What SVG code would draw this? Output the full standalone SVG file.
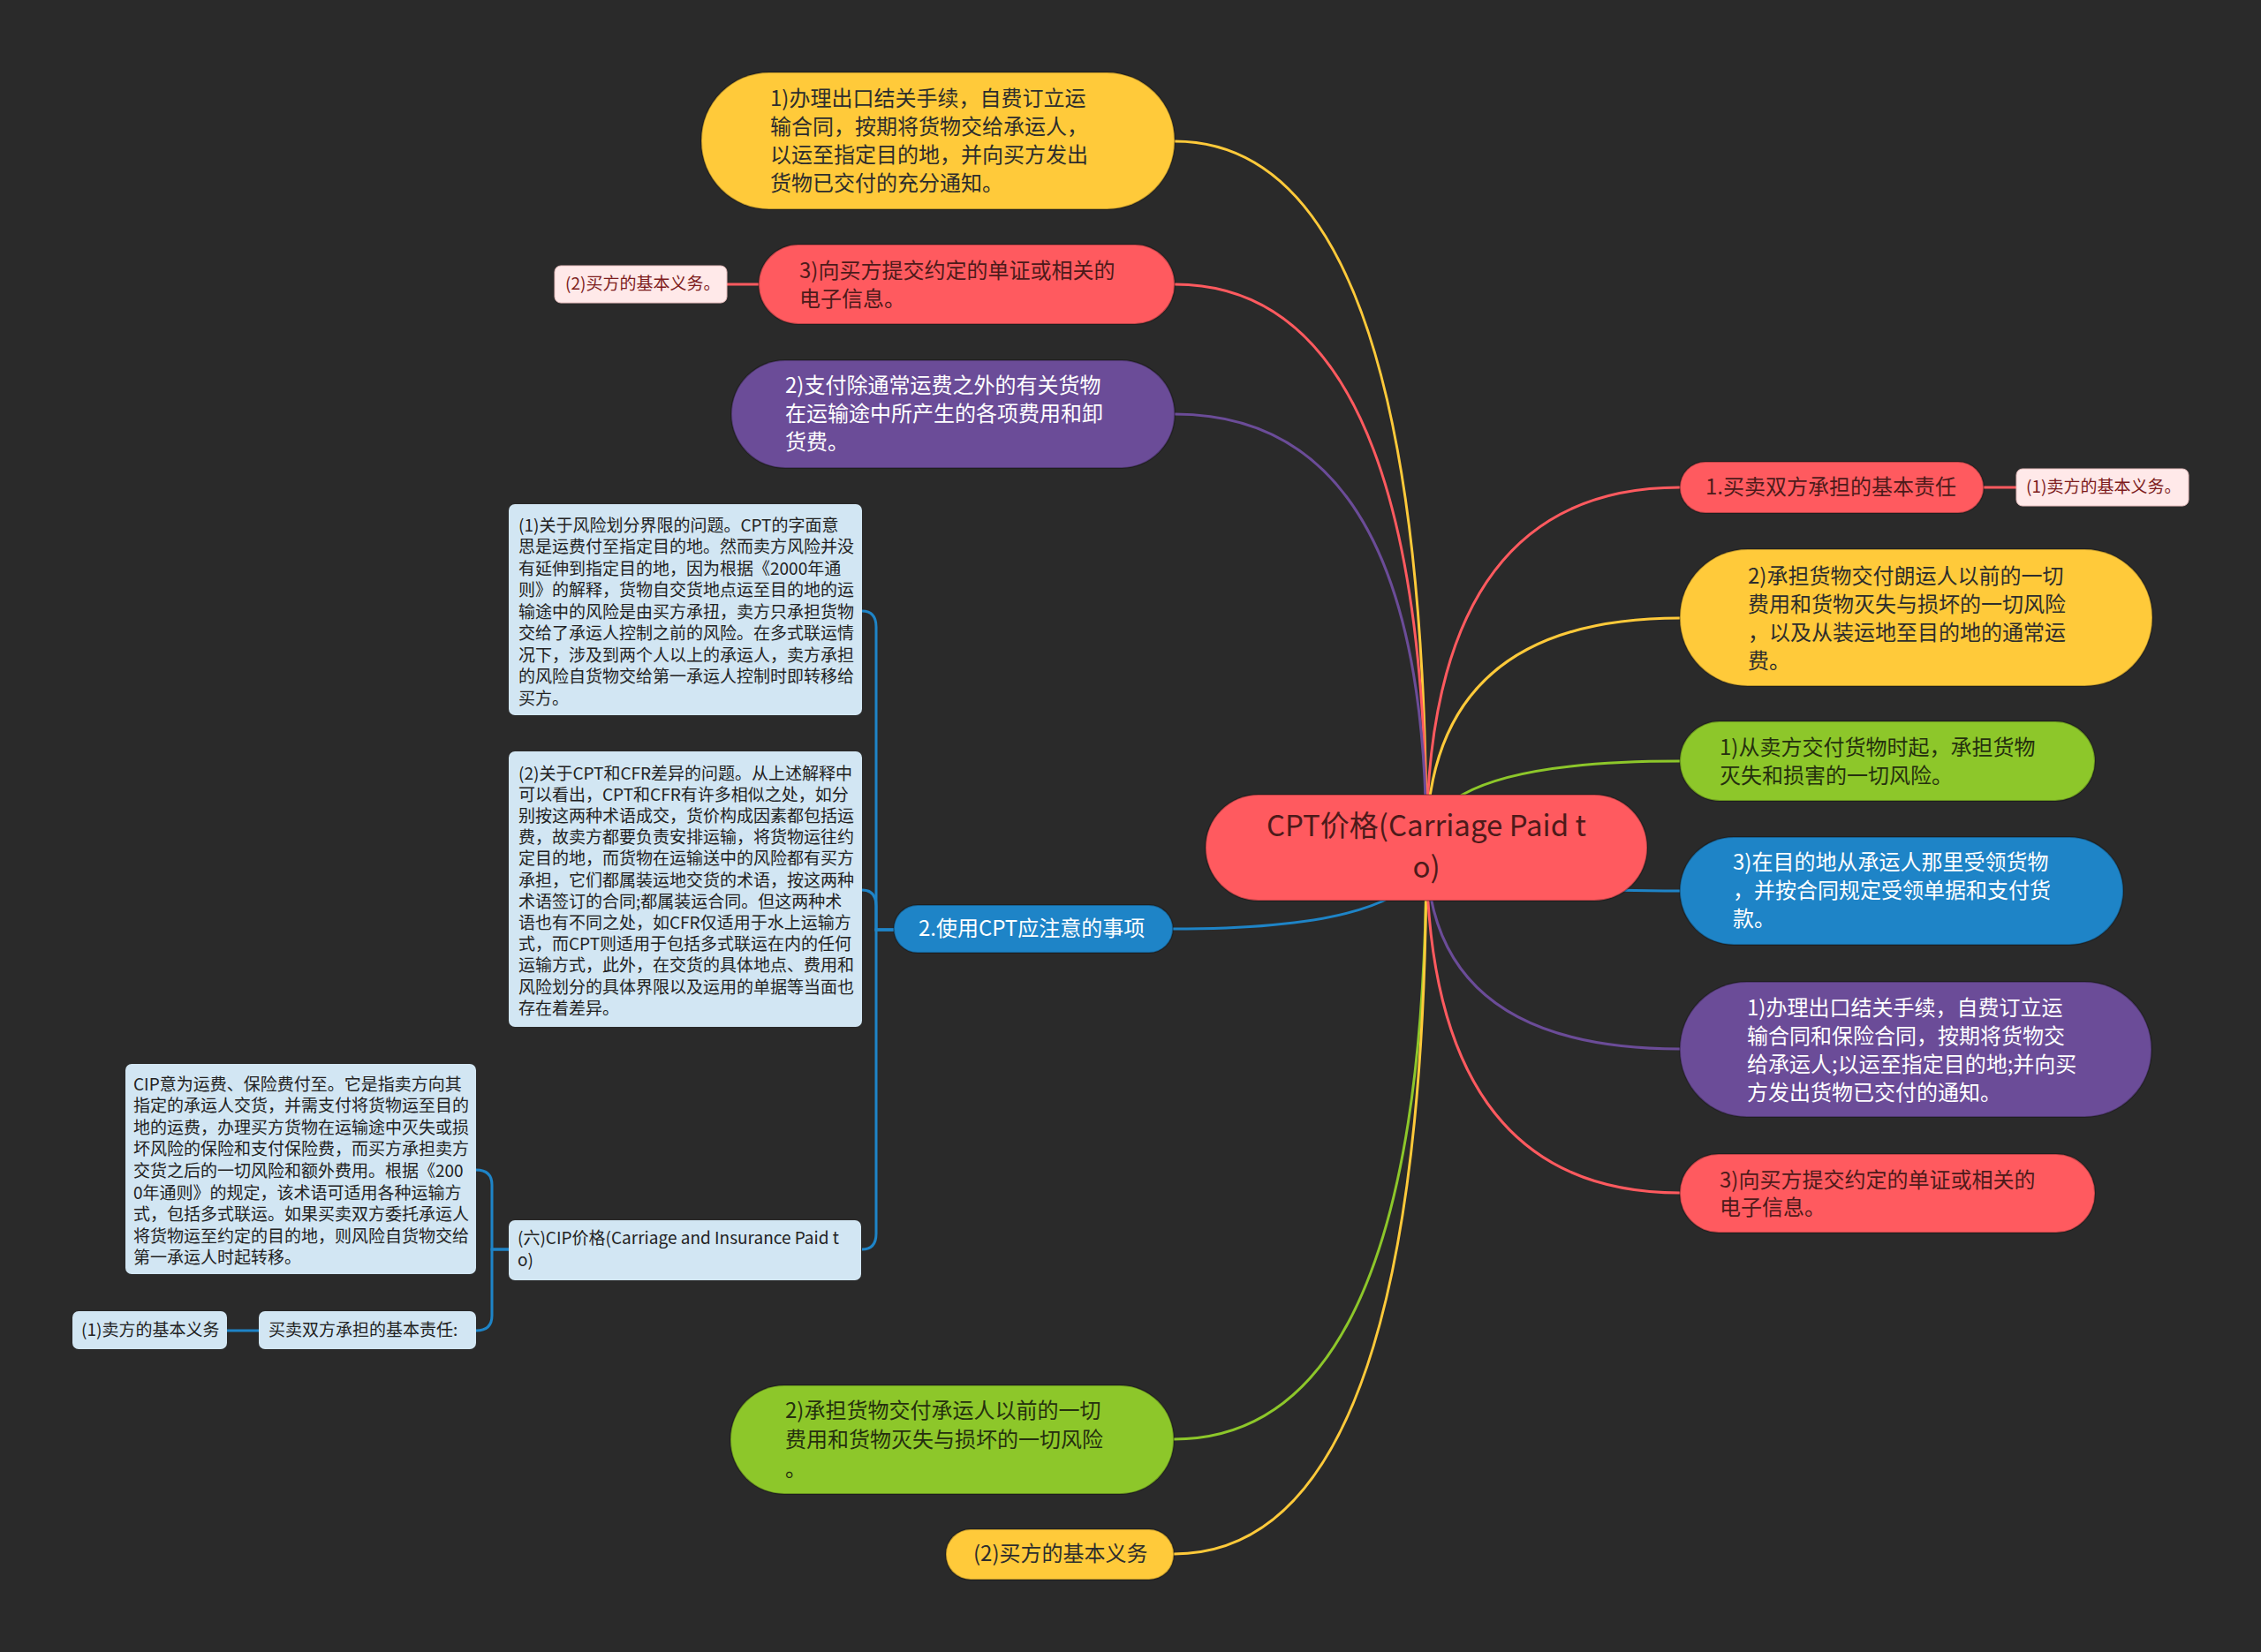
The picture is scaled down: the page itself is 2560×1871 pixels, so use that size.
<svg xmlns="http://www.w3.org/2000/svg" width="2560" height="1871" viewBox="0 0 2560 1871">
<style>
text{font-family:"Noto Sans CJK SC","Noto Sans",sans-serif;dominant-baseline:central;transform:translateY(-3px)}
.t24{font-size:24px}
.t19{font-size:19px}
.dk{fill:#2d2d2d}
.wh{fill:#ffffff}
.rd{fill:#4d1a1a}
.gn{fill:#25300e}
.pk{fill:#7d1c1c}
.lb{fill:#222222}
.yel{fill:#FFCA3A}
.red{fill:#FF5A5F}
.pur{fill:#6B4C98}
.grn{fill:#8DC72A}
.blu{fill:#1E84C7}
.pin{fill:#FFE9E9;stroke:#e6bdbd;stroke-width:1}
.lbx{fill:#D2E6F3}
.nd{stroke:rgba(0,0,0,0.25);stroke-width:2}
.c{fill:none;stroke-width:3}
</style>
<rect x="0" y="0" width="2560" height="1871" fill="#2a2a2a"/>
<g id="connectors">
<path class="c" stroke="#FFCA3A" d="M1615 960 Q1615 160 1330 160"/>
<path class="c" stroke="#FF5A5F" d="M1615 960 Q1615 322 1330 322"/>
<path class="c" stroke="#6B4C98" d="M1615 960 Q1615 469 1330 469"/>
<path class="c" stroke="#1E84C7" d="M1615 960 Q1615 1052 1328 1052"/>
<path class="c" stroke="#8DC72A" d="M1615 960 Q1615 1630 1329 1630"/>
<path class="c" stroke="#FFCA3A" d="M1615 960 Q1615 1760 1329 1760"/>
<path class="c" stroke="#FF5A5F" d="M1615 960 Q1615 552 1902 552"/>
<path class="c" stroke="#FFCA3A" d="M1615 960 Q1615 700 1902 700"/>
<path class="c" stroke="#8DC72A" d="M1615 960 Q1615 862 1902 862"/>
<path class="c" stroke="#1E84C7" d="M1615 960 Q1615 1009 1902 1009"/>
<path class="c" stroke="#6B4C98" d="M1615 960 Q1615 1188 1902 1188"/>
<path class="c" stroke="#FF5A5F" d="M1615 960 Q1615 1351 1902 1351"/>
<path class="c" stroke="#FF5A5F" stroke-width="4" d="M859 322 H823"/>
<path class="c" stroke="#FF5A5F" stroke-width="4" d="M2246 552 H2283"/>
<path class="c" stroke="#1E84C7" d="M1012 1053 H992 V710 Q992 692 976 692"/>
<path class="c" stroke="#1E84C7" d="M1012 1053 H992 V1026 Q992 1008 976 1008"/>
<path class="c" stroke="#1E84C7" d="M1012 1053 H992 V1397 Q992 1415 976 1415"/>
<path class="c" stroke="#1E84C7" d="M576 1415 H557 V1342 Q557 1325 539 1325"/>
<path class="c" stroke="#1E84C7" d="M576 1415 H557 V1490 Q557 1507 539 1507"/>
<path class="c" stroke="#1E84C7" stroke-width="4" d="M293 1507 H257"/>
</g>
<g id="root">
<rect class="red nd" x="1365" y="900" width="500" height="120" rx="60"/>
<text x="1615" y="936" text-anchor="middle" style="font-size:33px" class="rd">CPT价格(Carriage Paid t</text>
<text x="1615" y="983" text-anchor="middle" style="font-size:33px" class="rd">o)</text>
</g>
<g id="n-l1">
<rect class="yel nd" x="794" y="82" width="536" height="155" rx="77"/>
<text class="t24 dk" x="872" y="112">1)办理出口结关手续，自费订立运</text>
<text class="t24 dk" x="872" y="144">输合同，按期将货物交给承运人，</text>
<text class="t24 dk" x="872" y="176">以运至指定目的地，并向买方发出</text>
<text class="t24 dk" x="872" y="208">货物已交付的充分通知。</text>
</g>
<g id="n-l2">
<rect class="red nd" x="859" y="277" width="471" height="90" rx="45"/>
<text class="t24 rd" x="905" y="307">3)向买方提交约定的单证或相关的</text>
<text class="t24 rd" x="905" y="339">电子信息。</text>
</g>
<g id="n-l2a">
<rect class="pin" x="628" y="301" width="195" height="42" rx="7"/>
<text class="t19 pk" x="640" y="322">(2)买方的基本义务。</text>
</g>
<g id="n-l3">
<rect class="pur nd" x="828" y="408" width="502" height="122" rx="61"/>
<text class="t24 wh" x="889" y="437">2)支付除通常运费之外的有关货物</text>
<text class="t24 wh" x="889" y="469">在运输途中所产生的各项费用和卸</text>
<text class="t24 wh" x="889" y="501">货费。</text>
</g>
<g id="n-box1">
<rect class="lbx" x="576" y="571" width="400" height="239" rx="7"/>
<text class="t19 lb" x="587" y="596">(1)关于风险划分界限的问题。CPT的字面意</text>
<text class="t19 lb" x="587" y="620.5">思是运费付至指定目的地。然而卖方风险并没</text>
<text class="t19 lb" x="587" y="645">有延伸到指定目的地，因为根据《2000年通</text>
<text class="t19 lb" x="587" y="669.5">则》的解释，货物自交货地点运至目的地的运</text>
<text class="t19 lb" x="587" y="694">输途中的风险是由买方承扭，卖方只承担货物</text>
<text class="t19 lb" x="587" y="718.5">交给了承运人控制之前的风险。在多式联运情</text>
<text class="t19 lb" x="587" y="743">况下，涉及到两个人以上的承运人，卖方承担</text>
<text class="t19 lb" x="587" y="767.5">的风险自货物交给第一承运人控制时即转移给</text>
<text class="t19 lb" x="587" y="792">买方。</text>
</g>
<g id="n-box2">
<rect class="lbx" x="576" y="851" width="400" height="312" rx="7"/>
<text class="t19 lb" x="587" y="877">(2)关于CPT和CFR差异的问题。从上述解释中</text>
<text class="t19 lb" x="587" y="901.2">可以看出，CPT和CFR有许多相似之处，如分</text>
<text class="t19 lb" x="587" y="925.4">别按这两种术语成交，货价构成因素都包括运</text>
<text class="t19 lb" x="587" y="949.6">费，故卖方都要负责安排运输，将货物运往约</text>
<text class="t19 lb" x="587" y="973.8">定目的地，而货物在运输送中的风险都有买方</text>
<text class="t19 lb" x="587" y="998">承担，它们都属装运地交货的术语，按这两种</text>
<text class="t19 lb" x="587" y="1022.2">术语签订的合同;都属装运合同。但这两种术</text>
<text class="t19 lb" x="587" y="1046.4">语也有不同之处，如CFR仅适用于水上运输方</text>
<text class="t19 lb" x="587" y="1070.6">式，而CPT则适用于包括多式联运在内的任何</text>
<text class="t19 lb" x="587" y="1094.8">运输方式，此外，在交货的具体地点、费用和</text>
<text class="t19 lb" x="587" y="1119">风险划分的具体界限以及运用的单据等当面也</text>
<text class="t19 lb" x="587" y="1143.2">存在着差异。</text>
</g>
<g id="n-lblue">
<rect class="blu nd" x="1012" y="1025" width="316" height="54" rx="27"/>
<text class="t24 wh" x="1040" y="1052">2.使用CPT应注意的事项</text>
</g>
<g id="n-cip">
<rect class="lbx" x="576" y="1382" width="399" height="68" rx="7"/>
<text class="t19 lb" x="586" y="1403">(六)CIP价格(Carriage and Insurance Paid t</text>
<text class="t19 lb" x="586" y="1428">o)</text>
</g>
<g id="n-cipdesc">
<rect class="lbx" x="142" y="1205" width="397" height="238" rx="7"/>
<text class="t19 lb" x="151" y="1229">CIP意为运费、保险费付至。它是指卖方向其</text>
<text class="t19 lb" x="151" y="1253.6">指定的承运人交货，并需支付将货物运至目的</text>
<text class="t19 lb" x="151" y="1278.2">地的运费，办理买方货物在运输途中灭失或损</text>
<text class="t19 lb" x="151" y="1302.8">坏风险的保险和支付保险费，而买方承担卖方</text>
<text class="t19 lb" x="151" y="1327.4">交货之后的一切风险和额外费用。根据《200</text>
<text class="t19 lb" x="151" y="1352">0年通则》的规定，该术语可适用各种运输方</text>
<text class="t19 lb" x="151" y="1376.6">式，包括多式联运。如果买卖双方委托承运人</text>
<text class="t19 lb" x="151" y="1401.2">将货物运至约定的目的地，则风险自货物交给</text>
<text class="t19 lb" x="151" y="1425.8">第一承运人时起转移。</text>
</g>
<g id="n-resp">
<rect class="lbx" x="293" y="1485" width="246" height="43" rx="7"/>
<text class="t19 lb" x="304" y="1507">买卖双方承担的基本责任:</text>
</g>
<g id="n-seller">
<rect class="lbx" x="82" y="1485" width="175" height="43" rx="7"/>
<text class="t19 lb" x="92" y="1507">(1)卖方的基本义务</text>
</g>
<g id="n-b1">
<rect class="grn nd" x="827" y="1569" width="502" height="123" rx="61"/>
<text class="t24 gn" x="889" y="1598">2)承担货物交付承运人以前的一切</text>
<text class="t24 gn" x="889" y="1631">费用和货物灭失与损坏的一切风险</text>
<text class="t24 gn" x="889" y="1664">。</text>
</g>
<g id="n-b2">
<rect class="yel nd" x="1071" y="1732" width="258" height="57" rx="28"/>
<text class="t24 dk" x="1102" y="1760">(2)买方的基本义务</text>
</g>
<g id="n-r1">
<rect class="red nd" x="1902" y="523" width="344" height="58" rx="29"/>
<text class="t24 rd" x="1931" y="552">1.买卖双方承担的基本责任</text>
</g>
<g id="n-r1a">
<rect class="pin" x="2283" y="531" width="195" height="42" rx="7"/>
<text class="t19 pk" x="2294" y="552">(1)卖方的基本义务。</text>
</g>
<g id="n-r2">
<rect class="yel nd" x="1902" y="622" width="535" height="155" rx="77"/>
<text class="t24 dk" x="1979" y="653">2)承担货物交付朗运人以前的一切</text>
<text class="t24 dk" x="1979" y="685">费用和货物灭失与损坏的一切风险</text>
<text class="t24 dk" x="1979" y="717">，以及从装运地至目的地的通常运</text>
<text class="t24 dk" x="1979" y="749">费。</text>
</g>
<g id="n-r3">
<rect class="grn nd" x="1902" y="817" width="470" height="90" rx="45"/>
<text class="t24 gn" x="1947" y="847">1)从卖方交付货物时起，承担货物</text>
<text class="t24 gn" x="1947" y="879">灭失和损害的一切风险。</text>
</g>
<g id="n-r4">
<rect class="blu nd" x="1902" y="948" width="502" height="122" rx="61"/>
<text class="t24 wh" x="1962" y="977">3)在目的地从承运人那里受领货物</text>
<text class="t24 wh" x="1962" y="1009">，并按合同规定受领单据和支付货</text>
<text class="t24 wh" x="1962" y="1041">款。</text>
</g>
<g id="n-r5">
<rect class="pur nd" x="1902" y="1112" width="534" height="153" rx="76"/>
<text class="t24 wh" x="1978" y="1142">1)办理出口结关手续，自费订立运</text>
<text class="t24 wh" x="1978" y="1174">输合同和保险合同，按期将货物交</text>
<text class="t24 wh" x="1978" y="1206">给承运人;以运至指定目的地;并向买</text>
<text class="t24 wh" x="1978" y="1238">方发出货物已交付的通知。</text>
</g>
<g id="n-r6">
<rect class="red nd" x="1902" y="1307" width="470" height="89" rx="44"/>
<text class="t24 rd" x="1947" y="1337">3)向买方提交约定的单证或相关的</text>
<text class="t24 rd" x="1947" y="1368">电子信息。</text>
</g>
</svg>
